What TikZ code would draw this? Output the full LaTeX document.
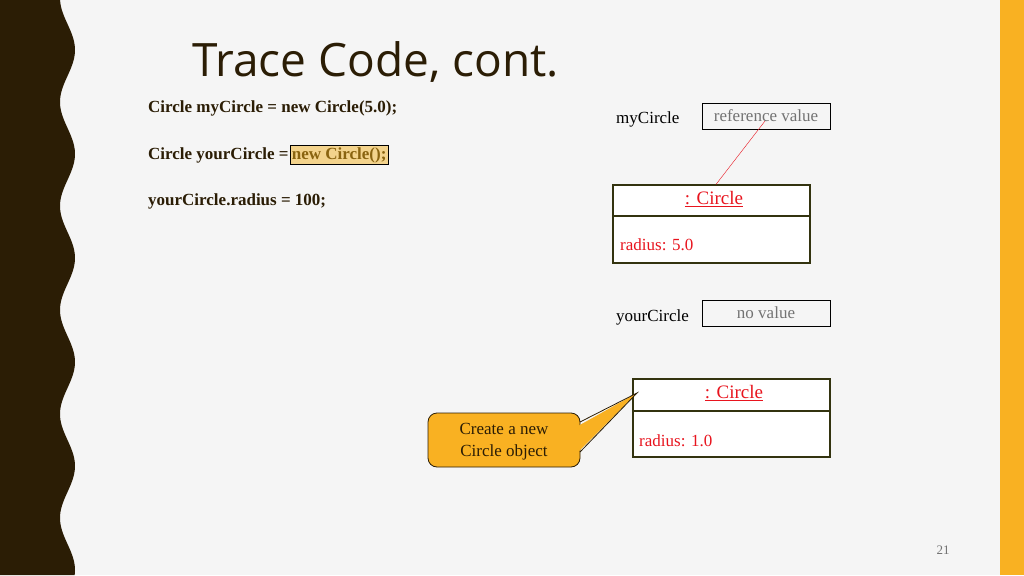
\documentclass[tikz,border=0pt]{standalone}
\usepackage{fontspec}
\setmainfont{Liberation Serif}
\newfontfamily\titlefont{Open Sans}
\usetikzlibrary{positioning,calc}
\definecolor{darkbrown}{HTML}{2B1D05}
\definecolor{slideorange}{HTML}{F9B122}
\definecolor{hlfill}{HTML}{F3D38C}
\definecolor{hltext}{HTML}{8A6410}
\definecolor{objborder}{HTML}{33330F}
\definecolor{objred}{HTML}{E8141E}
\tikzset{
  code/.style={anchor=base west,font=\fontsize{17}{20}\selectfont\bfseries,text=darkbrown,inner sep=0pt},
  varname/.style={anchor=base west,font=\fontsize{17}{20}\selectfont,inner sep=0pt},
  valbox/.style={draw=black,minimum width=128pt,minimum height=26pt,inner sep=0pt,
    font=\fontsize{17}{20}\selectfont,text=gray!90!black},
  objbox/.style={draw=objborder,line width=1.2pt,fill=white,minimum width=197pt,minimum height=78pt}
}
\begin{document}
\begin{tikzpicture}[x=1pt,y=-1pt]
  \useasboundingbox (0,0) rectangle (1024,575);
  \fill[gray!8] (0,0) rectangle (1024,575);
  % wavy left band
  \fill[darkbrown] (0,0) -- plot[domain=0:575,samples=120,smooth] ({67.5+7.5*sin((\x-24)*3.4615)},\x) -- (0,575) -- cycle;
  \fill[slideorange] (1000,0) rectangle (1024,575);
  \node[anchor=base west,font=\titlefont\fontsize{46}{50}\selectfont,text=darkbrown,inner sep=0pt] (title) at (192,77) {Trace Code, cont.};
  % code lines
  \node[code] (line1) at (148,113) {Circle myCircle = new Circle(5.0);};
  \node[code] (line2) at (148,159) {Circle yourCircle = };
  \node[code,right=1pt of line2.base east,anchor=base west,fill=hlfill,draw=black,inner sep=2pt,text=hltext] (hl) {new Circle();};
  \node[code] (line3) at (148,205) {yourCircle.radius = 100;};
  % first object
  \node[varname] (mycircle) at (616,123) {myCircle};
  \node[valbox] (refval) at (766,116) {reference value};
  \node[objbox] (obj1) at (711.5,224) {};
  \draw[objborder,line width=1.2pt] (obj1.west |- 0,216) -- (obj1.east |- 0,216);
  \node[text=objred,font=\fontsize{19}{22}\selectfont] (obj1name) at (714,199) {\underline{: Circle}};
  \node[varname,text=objred] (obj1rad) at (620,250) {radius: 5.0};
  \coordinate (refend) at (765,121);
  \draw[objred] (refend) -- (obj1.north west -| 716,0);
  % second object
  \node[varname] (yourcircle) at (616,321) {yourCircle};
  \node[valbox] (noval) at (766,313) {no value};
  \node[objbox] (obj2) at (731.5,418) {};
  \draw[objborder,line width=1.2pt] (obj2.west |- 0,411) -- (obj2.east |- 0,411);
  \node[text=objred,font=\fontsize{19}{22}\selectfont] (obj2name) at (734,393) {\underline{: Circle}};
  \node[varname,text=objred] (obj2rad) at (639,446) {radius: 1.0};
  % callout
  \coordinate (tip) at (637,393);
  \fill[slideorange,draw=darkbrown,line width=0.8pt,rounded corners=9pt] (428,413) rectangle (580,467);
  \fill[slideorange] (578,426) -- (tip) -- (578,452) -- cycle;
  \draw[darkbrown,line width=0.8pt] (580,422) -- (tip) -- (580,452);
  \node[align=center,font=\fontsize{17}{22}\selectfont,text=darkbrown] (note) at (504,442) {Create a new\\Circle object};
  \node[font=\fontsize{13}{15}\selectfont,text=gray!90!black] (pagenum) at (943,550) {21};
\end{tikzpicture}
\end{document}
